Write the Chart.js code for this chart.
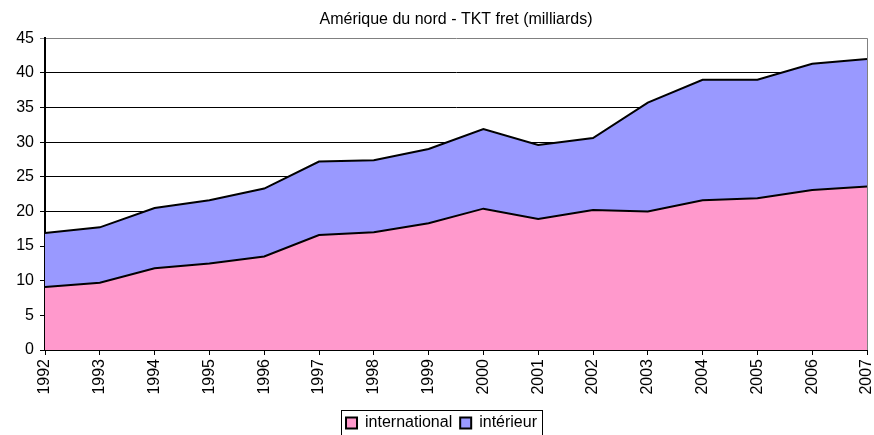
<!DOCTYPE html>
<html>
<head>
    <title>Amérique du nord - TKT fret</title>
    <script src="https://cdn.jsdelivr.net/npm/chart.js"></script>
    <style>
        body {margin: 0; padding: 0; background: #fff;}
        #wrap {width: 874px; height: 435px; overflow: hidden;}
    </style>
</head>
<body>
    <div id="wrap">
        <canvas id="myChart" width="874" height="435"></canvas>
    </div>
    <script>
        // values (milliards TKT)
        var years = ['1992', '1993', '1994', '1995', '1996', '1997', '1998', '1999',
                     '2000', '2001', '2002', '2003', '2004', '2005', '2006', '2007'];
        var international = [9.1, 9.7, 11.8, 12.5, 13.5, 16.6, 17.0, 18.3,
                             20.4, 18.9, 20.2, 20.0, 21.6, 21.9, 23.1, 23.6];
        var interieur = [7.8, 8.0, 8.7, 9.1, 9.8, 10.6, 10.4, 10.7,
                         11.5, 10.7, 10.4, 15.7, 17.4, 17.1, 18.2, 18.4];
        var yTicks = [0, 5, 10, 15, 20, 25, 30, 35, 40, 45];

        var fontName = '"Liberation Sans", Arial, sans-serif';

        // title centred over the plot, box round the legend, grey right border
        var frames = {
            id: 'frames',
            afterLayout: function(chart) {
                if (chart.titleBlock) {
                    chart.titleBlock.left = chart.chartArea.left;
                    chart.titleBlock.right = chart.chartArea.right;
                }
            },
            afterDraw: function(chart) {
                var c = chart.ctx;
                var a = chart.chartArea;
                c.save();
                c.strokeStyle = '#808080';
                c.lineWidth = 1;
                c.beginPath();
                c.moveTo(a.right + 0.5, a.top);
                c.lineTo(a.right + 0.5, a.bottom);
                c.stroke();

                var boxes = chart.legend.legendHitBoxes;
                if (boxes && boxes.length) {
                    var l = boxes[0].left - 5;
                    var last = boxes[boxes.length - 1];
                    var r = last.left + last.width + 5;
                    var t = boxes[0].top - 5;
                    var b = boxes[0].top + boxes[0].height + 5;
                    c.strokeStyle = '#000';
                    c.strokeRect(Math.round(l) + 0.5, Math.round(t) + 0.5, Math.round(r - l), Math.round(b - t));
                }
                c.restore();
            }
        };

        var ctx = document.getElementById('myChart').getContext('2d');
        new Chart(ctx, {
            type: 'line',
            data: {
                labels: years,
                datasets: [
                    {
                        label: 'international',
                        data: international,
                        backgroundColor: '#FF99CC',
                        borderColor: '#000',
                        borderWidth: 2,
                        pointRadius: 0,
                        fill: 'origin',
                        tension: 0
                    },
                    {
                        label: 'intérieur',
                        data: interieur,
                        backgroundColor: '#9999FF',
                        borderColor: '#000',
                        borderWidth: 2,
                        pointRadius: 0,
                        fill: '-1',
                        tension: 0
                    }
                ]
            },
            options: {
                responsive: false,
                animation: false,
                layout: {padding: {left: 16, right: 7, top: 0, bottom: -6}},
                plugins: {
                    title: {
                        display: true,
                        text: 'Amérique du nord - TKT fret (milliards)',
                        color: '#000',
                        font: {family: fontName, size: 16, weight: 'normal'},
                        padding: {top: 10, bottom: 9}
                    },
                    legend: {
                        position: 'bottom',
                        labels: {
                            color: '#000',
                            font: {family: fontName, size: 16},
                            boxWidth: 11,
                            boxHeight: 11,
                            padding: 8
                        }
                    },
                    tooltip: {enabled: false}
                },
                scales: {
                    x: {
                        offset: false,
                        grid: {drawOnChartArea: false, color: '#000', tickLength: 5},
                        border: {color: '#000', width: 2},
                        ticks: {
                            color: '#000',
                            font: {family: fontName, size: 16},
                            minRotation: 90,
                            maxRotation: 90,
                            autoSkip: false,
                            padding: 4
                        },
                        afterFit: function(scale) {
                            scale.height = 57;
                            scale.paddingLeft = 0;
                            scale.paddingRight = 0;
                        }
                    },
                    y: {
                        stacked: true,
                        min: 0,
                        max: 45,
                        afterBuildTicks: function(scale) {
                            scale.ticks = yTicks.map(function(v) { return {value: v}; });
                        },
                        grid: {
                            color: function(c) { return c.tick && c.tick.value === 45 ? '#808080' : '#000'; },
                            lineWidth: 1,
                            tickLength: 5
                        },
                        border: {color: '#000', width: 2},
                        ticks: {
                            color: '#000',
                            font: {family: fontName, size: 16},
                            padding: 6
                        },
                        afterFit: function(scale) { scale.width = 29; }
                    }
                }
            },
            plugins: [frames]
        });
    </script>
</body>
</html>
